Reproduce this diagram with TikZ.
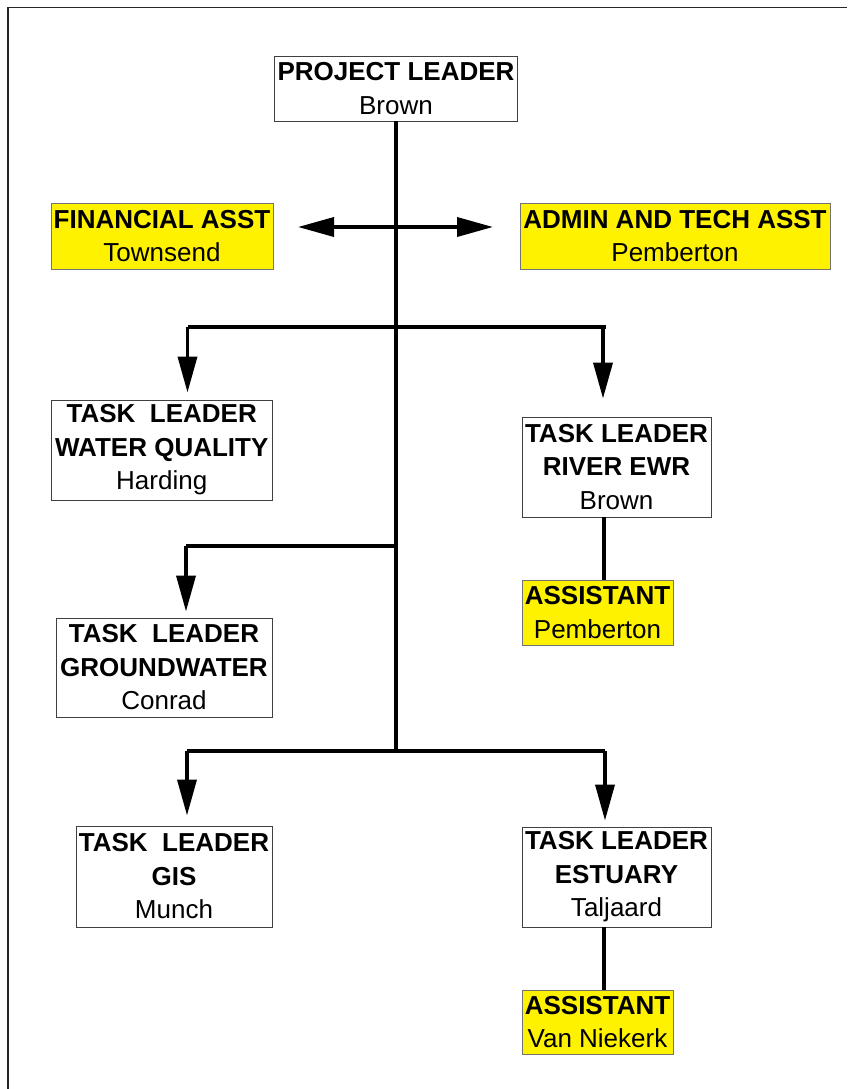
\documentclass[tikz,border=0pt]{standalone}
\usepackage{fontspec}
\setmainfont{Liberation Sans}
\usetikzlibrary{arrows.meta}
\begin{document}
\begin{tikzpicture}[x=1pt,y=-1pt,
  box/.style={draw=black!75, line width=0.9pt, fill=white, inner sep=0pt, align=center,
    font=\fontsize{26}{33.5}\selectfont},
  ybox/.style={box, draw=black!55, fill=yellow},
  conn/.style={line width=3.6pt, line cap=butt},
  arr/.style={conn, -{Triangle[length=36pt,width=19pt]}},
  darr/.style={conn, {Triangle[length=36pt,width=19pt]}-{Triangle[length=36pt,width=19pt]}}
]
\useasboundingbox (0,0) rectangle (847,1089);
% frame (top and left edges)
\coordinate (fbl) at (8,1089);
\coordinate (ftl) at (8,7.5);
\coordinate (ftr) at (847,7.5);
\draw[line width=1.6pt, black!85] (fbl) -- (ftl) -- (ftr);

% boxes
\node[box, minimum width=243pt, minimum height=64.5pt] (pl) at (396,88.75) {\textbf{PROJECT LEADER}\\Brown};
\node[ybox, minimum width=222pt, minimum height=66pt] (fin) at (162,236) {\textbf{FINANCIAL ASST}\\Townsend};
\node[ybox, minimum width=310pt, minimum height=66pt] (adm) at (675,236) {\textbf{ADMIN AND TECH ASST}\\Pemberton};
\node[box, minimum width=221.5pt, minimum height=100pt] (wq) at (161.75,450) {\textbf{TASK\ \ LEADER}\\\textbf{WATER QUALITY}\\Harding};
\node[box, minimum width=189pt, minimum height=100pt] (rewr) at (616.5,467) {\textbf{TASK LEADER}\\\textbf{RIVER EWR}\\Brown};
\node[ybox, minimum width=151pt, minimum height=65pt] (as1) at (597.5,612.5) {\textbf{ASSISTANT}\\Pemberton};
\node[box, minimum width=216pt, minimum height=99pt] (gw) at (164,667.5) {\textbf{TASK\ \ LEADER}\\\textbf{GROUNDWATER}\\Conrad};
\node[box, minimum width=196pt, minimum height=101pt] (gis) at (174,876.5) {\textbf{TASK\ \ LEADER}\\\textbf{GIS}\\Munch};
\node[box, minimum width=189pt, minimum height=100pt] (est) at (616.5,877) {\textbf{TASK LEADER}\\\textbf{ESTUARY}\\Taljaard};
\node[ybox, minimum width=151pt, minimum height=64pt] (as2) at (597.5,1022) {\textbf{ASSISTANT}\\Van Niekerk};

% junction coordinates
\coordinate (trunkend) at (396,751);
\coordinate (b1l) at (187.5,327);
\coordinate (b1r) at (606,327);
\coordinate (b1ra) at (603,327);
\coordinate (b2) at (396,546);
\coordinate (b2l) at (186,546);
\coordinate (b3l) at (187,751);
\coordinate (b3r) at (605,751);
\coordinate (hl) at (298,227);
\coordinate (hr) at (493,227);

% trunk
\draw[conn] (pl.south -| trunkend) -- (trunkend);
% double arrow to assistants
\draw[darr] (hl) -- (hr);
% branch 1
\draw[conn] (b1l) -- (b1r);
\draw[arr, shorten >=7pt] (b1l) -- (b1l |- wq.north);
\draw[arr, shorten >=18pt] (b1ra) -- (b1ra |- rewr.north);
% branch 2
\draw[conn] (b2) -- (b2l);
\draw[arr, shorten >=6pt] (b2l) -- (b2l |- gw.north);
% branch 3
\draw[conn] (b3l) -- (b3r);
\draw[arr, shorten >=10pt] (b3l) -- (b3l |- gis.north);
\draw[arr, shorten >=6pt] (b3r) -- (b3r |- est.north);
% assistants
\draw[conn] (rewr.south -| as1.north) ++(6.5,0) coordinate (r1) -- (r1 |- as1.north);
\draw[conn] (est.south -| as2.north) ++(6.5,0) coordinate (r2) -- (r2 |- as2.north);
\end{tikzpicture}
\end{document}
